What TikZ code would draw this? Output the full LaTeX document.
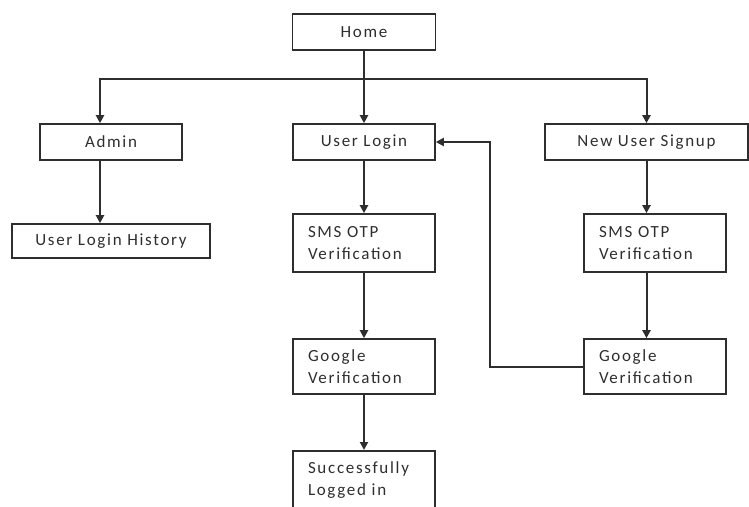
\documentclass[tikz,border=0pt]{standalone}
\usepackage{fontspec}
\setmainfont{Carlito}[LetterSpace=10]
\usepackage{tikz}
\usetikzlibrary{arrows.meta,positioning,calc}

\definecolor{inkgray}{HTML}{2E2E2E}

\begin{document}
\begin{tikzpicture}[
    x=1pt, y=-1pt,
    every node/.style={font=\fontsize{17}{22}\selectfont, text=inkgray},
    pagebox/.style={draw=inkgray, line width=1.6pt, minimum width=142pt, minimum height=36pt, inner sep=0pt, align=center},
    twoline/.style={pagebox, minimum height=58pt, text width=112pt, align=left},
    arrow/.style={-{Triangle[width=8pt,length=8pt]}, line width=2pt, draw=inkgray},
    link/.style={line width=2pt, draw=inkgray}
]
    \useasboundingbox (0,0) rectangle (749,506);
    \clip (0,0) rectangle (749,506);

    % top level
    \node[pagebox, minimum width=143pt] (home) at (364,32) {Home};

    % second row
    \node[pagebox] (admin) at (111,142) {Admin};
    \node[pagebox] (login) at (364,142) {User Login};
    \node[pagebox, minimum width=203pt] (signup) at (646.5,142) {New User Signup};

    % admin branch
    \node[pagebox, minimum width=198pt, minimum height=34pt] (history) at (111,241) {User Login History};

    % login branch
    \node[twoline] (smslogin) at (364,243) {SMS OTP\\Verification};
    \node[twoline, minimum height=55pt] (gglogin) at (364,366.5) {Google\\Verification};
    \node[twoline, anchor=north] (done) at (364,450) {Successfully\\Logged in};

    % signup branch
    \node[twoline] (smssignup) at (655,243) {SMS OTP\\Verification};
    \node[twoline, minimum height=55pt] (ggsignup) at (655,366.5) {Google\\Verification};

    % arrows
    \draw[link] (home.south) -- ++(0,28) coordinate (split);
    \draw[arrow] (split) -| ([xshift=-11pt]admin.north);
    \draw[arrow] (split) -- (login.north);
    \draw[arrow] (split) -| (signup.north);

    \draw[arrow] ([xshift=-11pt]admin.south) -- ([xshift=-11pt]history.north);

    \draw[arrow] (login) -- (smslogin);
    \draw[arrow] (smslogin) -- (gglogin);
    \draw[arrow] (gglogin) -- (done);

    \draw[arrow] (signup.south) -- (signup.south |- smssignup.north);
    \draw[arrow] (smssignup.south -| signup.south) -- (signup.south |- ggsignup.north);

    \draw[arrow] (ggsignup.west) -- ++(-93,0) |- (login.east);
\end{tikzpicture}
\end{document}
